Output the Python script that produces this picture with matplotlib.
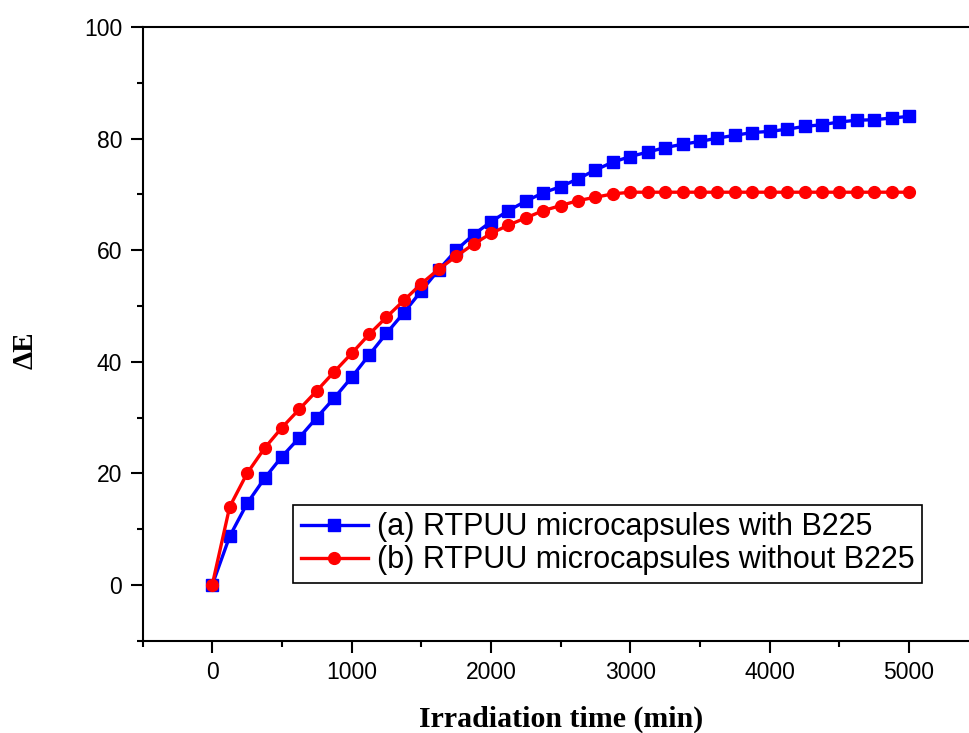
import matplotlib
matplotlib.use("Agg")
import matplotlib.pyplot as plt
from matplotlib.ticker import MultipleLocator

# irradiation time (min), one point every 125 min
time_min = [0, 125, 250, 375, 500, 625, 750, 875, 1000, 1125, 1250, 1375, 1500,
            1625, 1750, 1875, 2000, 2125, 2250, 2375, 2500, 2625, 2750, 2875,
            3000, 3125, 3250, 3375, 3500, 3625, 3750, 3875, 4000, 4125, 4250,
            4375, 4500, 4625, 4750, 4875, 5000]

# (a) with B225
de_with = [0.0, 8.7, 14.6, 19.1, 23.0, 26.4, 30.0, 33.5, 37.2, 41.2, 45.1, 48.8,
           52.7, 56.5, 60.0, 62.8, 65.1, 67.1, 68.8, 70.3, 71.4, 72.8, 74.4,
           75.8, 76.8, 77.6, 78.4, 79.0, 79.5, 80.1, 80.6, 81.1, 81.3, 81.7,
           82.2, 82.5, 83.0, 83.3, 83.4, 83.7, 84.0]

# (b) without B225
de_without = [0.0, 14.0, 20.0, 24.5, 28.2, 31.5, 34.8, 38.2, 41.5, 44.9, 48.0,
              51.0, 54.0, 56.6, 58.9, 61.1, 63.0, 64.5, 65.8, 67.1, 68.0, 68.9,
              69.5, 70.1, 70.4, 70.4, 70.4, 70.4, 70.4, 70.4, 70.4, 70.4, 70.4,
              70.4, 70.4, 70.4, 70.4, 70.4, 70.4, 70.4, 70.4]

labels = ["(a) RTPUU microcapsules with B225",
          "(b) RTPUU microcapsules without B225"]

fig = plt.figure(figsize=(9.7, 7.33), dpi=100)
ax = fig.add_axes([0.147, 0.126, 0.862, 0.837])

ax.plot(time_min, de_with, color="#0000ff", marker="s", markersize=8,
        linewidth=2.4, label=labels[0])
ax.plot(time_min, de_without, color="#ff0000", marker="o", markersize=8.5,
        linewidth=2.4, label=labels[1])

ax.set_xlim(-500, 5500)
ax.set_ylim(-10, 100)
ax.xaxis.set_major_locator(MultipleLocator(1000))
ax.xaxis.set_minor_locator(MultipleLocator(500))
ax.yaxis.set_major_locator(MultipleLocator(20))
ax.yaxis.set_minor_locator(MultipleLocator(10))

for s in ax.spines.values():
    s.set_linewidth(1.5)
ax.spines["right"].set_visible(False)

ax.tick_params(which="both", direction="out", top=False, right=False, width=1.5)
ax.tick_params(which="major", length=8.6, pad=6, labelsize=16.5)
ax.tick_params(which="minor", length=4.3)
for lab in ax.get_xticklabels() + ax.get_yticklabels():
    lab.set_fontfamily("Liberation Sans")

ax.set_xlabel("Irradiation time (min)", fontsize=21.5, fontweight="bold",
              fontfamily="Liberation Serif", va="center")
ax.set_ylabel("ΔE", fontsize=21, fontweight="bold",
              fontfamily="Liberation Serif", va="center")
ax.xaxis.set_label_coords(0.5, -0.1275)
ax.yaxis.set_label_coords(-0.14, 0.474)

leg = ax.legend(loc="lower left", bbox_to_anchor=(0.18, 0.094), borderaxespad=0,
                prop={"family": "Liberation Sans", "size": 22},
                fancybox=False, edgecolor="black", framealpha=1,
                handlelength=2.2, handletextpad=0.3, labelspacing=0.1,
                borderpad=0.25)
leg.get_frame().set_linewidth(1.2)

fig.savefig("out.png", dpi=100)
